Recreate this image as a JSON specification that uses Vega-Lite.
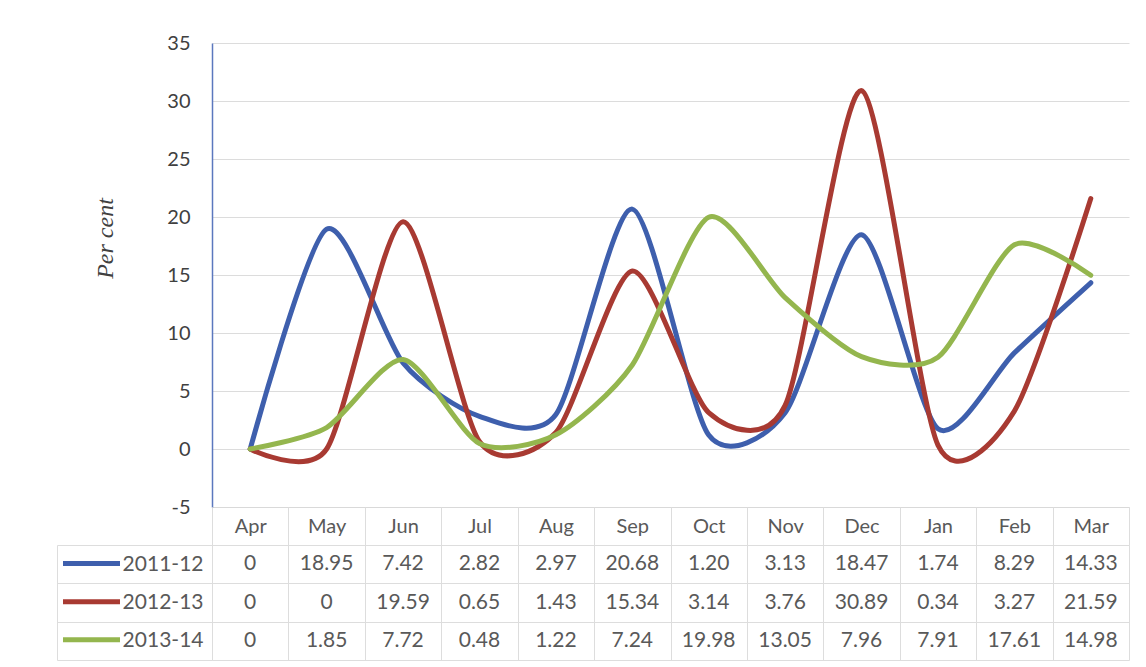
{
  "$schema": "https://vega.github.io/schema/vega-lite/v6.json",
  "padding": {"left": 56, "top": 33, "right": 18, "bottom": 7},
  "background": "white",
  "spacing": 38,
  "bounds": "flush",
  "config": {"view": {"stroke": null}, "font": "Lato"},
  "data": {"values": [
    {"month": "Apr", "series": "2011-12", "value": 0},
    {"month": "May", "series": "2011-12", "value": 18.95},
    {"month": "Jun", "series": "2011-12", "value": 7.42},
    {"month": "Jul", "series": "2011-12", "value": 2.82},
    {"month": "Aug", "series": "2011-12", "value": 2.97},
    {"month": "Sep", "series": "2011-12", "value": 20.68},
    {"month": "Oct", "series": "2011-12", "value": 1.20},
    {"month": "Nov", "series": "2011-12", "value": 3.13},
    {"month": "Dec", "series": "2011-12", "value": 18.47},
    {"month": "Jan", "series": "2011-12", "value": 1.74},
    {"month": "Feb", "series": "2011-12", "value": 8.29},
    {"month": "Mar", "series": "2011-12", "value": 14.33},
    {"month": "Apr", "series": "2012-13", "value": 0},
    {"month": "May", "series": "2012-13", "value": 0},
    {"month": "Jun", "series": "2012-13", "value": 19.59},
    {"month": "Jul", "series": "2012-13", "value": 0.65},
    {"month": "Aug", "series": "2012-13", "value": 1.43},
    {"month": "Sep", "series": "2012-13", "value": 15.34},
    {"month": "Oct", "series": "2012-13", "value": 3.14},
    {"month": "Nov", "series": "2012-13", "value": 3.76},
    {"month": "Dec", "series": "2012-13", "value": 30.89},
    {"month": "Jan", "series": "2012-13", "value": 0.34},
    {"month": "Feb", "series": "2012-13", "value": 3.27},
    {"month": "Mar", "series": "2012-13", "value": 21.59},
    {"month": "Apr", "series": "2013-14", "value": 0},
    {"month": "May", "series": "2013-14", "value": 1.85},
    {"month": "Jun", "series": "2013-14", "value": 7.72},
    {"month": "Jul", "series": "2013-14", "value": 0.48},
    {"month": "Aug", "series": "2013-14", "value": 1.22},
    {"month": "Sep", "series": "2013-14", "value": 7.24},
    {"month": "Oct", "series": "2013-14", "value": 19.98},
    {"month": "Nov", "series": "2013-14", "value": 13.05},
    {"month": "Dec", "series": "2013-14", "value": 7.96},
    {"month": "Jan", "series": "2013-14", "value": 7.91},
    {"month": "Feb", "series": "2013-14", "value": 17.61},
    {"month": "Mar", "series": "2013-14", "value": 14.98}
  ]},
  "vconcat": [
    {
      "width": 917,
      "height": 464,
      "mark": {"type": "line", "interpolate": "cardinal", "tension": 0.25, "strokeWidth": 5, "strokeCap": "round"},
      "encoding": {
        "x": {
          "field": "month", "type": "ordinal",
          "sort": ["Apr","May","Jun","Jul","Aug","Sep","Oct","Nov","Dec","Jan","Feb","Mar"],
          "scale": {"type": "point", "padding": 0.5},
          "axis": {"orient": "bottom", "labels": false, "ticks": false, "grid": false, "title": null, "domainColor": "#D9D9D9", "domainWidth": 1}
        },
        "y": {
          "field": "value", "type": "quantitative",
          "scale": {"domain": [-5, 35], "nice": false, "zero": false},
          "axis": {
            "values": [-5, 0, 5, 10, 15, 20, 25, 30, 35],
            "labelExpr": "replace(datum.label, '\u2212', '-')",
            "title": "Per cent", "titleFont": "Liberation Serif", "titleFontStyle": "italic", "titleFontWeight": "normal",
            "titleFontSize": 24, "titleColor": "#404040", "titleX": -100, "titleY": 195, "titleBaseline": "alphabetic", "titleAngle": -90, "titleAlign": "center",
            "labelFontSize": 20, "labelColor": "#404040", "labelPadding": 22, "labelFont": "Lato",
            "ticks": false, "domainColor": "#5B78BE", "domainWidth": 1.5,
            "grid": true, "gridColor": "#DCDCDC", "gridWidth": 1
          }
        },
        "color": {
          "field": "series", "type": "nominal",
          "scale": {"domain": ["2011-12", "2012-13", "2013-14"], "range": ["#3E5FAD", "#A83A32", "#94B64E"]},
          "legend": {
            "orient": "none", "legendX": -137.5, "legendY": 503.6, "title": null,
            "symbolType": "M-2,0H2", "symbolSize": 812, "symbolStrokeWidth": 5,
            "labelExpr": "''", "labelFontSize": 10, "rowPadding": 11.1, "padding": 0, "symbolOffset": 0, "labelOffset": 0
          }
        }
      }
    },
    {
      "width": 917,
      "height": 115,
      "encoding": {
        "x": {
          "field": "month", "type": "ordinal",
          "sort": ["Apr","May","Jun","Jul","Aug","Sep","Oct","Nov","Dec","Jan","Feb","Mar"],
          "scale": {"type": "band", "paddingInner": 0, "paddingOuter": 0},
          "axis": {
            "orient": "top", "title": null, "labelAngle": 0, "tickBand": "extent", "ticks": true, "tickSize": 38,
            "tickColor": "#DDDDDD", "domainColor": "#DDDDDD", "grid": true, "gridColor": "#DDDDDD",
            "labelPadding": -19, "labelBaseline": "middle", "labelFontSize": 20, "labelColor": "#595959", "labelFont": "Lato"
          }
        }
      },
      "layer": [
        {
          "mark": {"type": "text", "fontSize": 21, "color": "#595959", "font": "Lato"},
          "encoding": {
            "y": {
              "field": "series", "type": "ordinal",
              "sort": ["2011-12", "2012-13", "2013-14"],
              "scale": {"type": "band", "paddingInner": 0, "paddingOuter": 0},
              "axis": {
                "orient": "left", "title": null, "tickBand": "extent", "ticks": true, "tickSize": 155,
                "tickColor": "#DDDDDD", "domainColor": "#DDDDDD", "grid": true, "gridColor": "#DDDDDD",
                "labelPadding": -146, "labelBaseline": "middle", "labelFontSize": 21, "labelColor": "#595959", "labelFont": "Lato"
              }
            },
            "text": {"condition": {"test": "datum.value === 0", "value": "0"}, "field": "value", "type": "quantitative", "format": ".2f"}
          }
        },
        {
          "mark": {"type": "text", "fontSize": 1, "opacity": 0},
          "encoding": {
            "y": {
              "field": "series", "type": "ordinal",
              "sort": ["2011-12", "2012-13", "2013-14"],
              "scale": {"type": "band", "paddingInner": 0, "paddingOuter": 0},
              "axis": {"orient": "left", "offset": 155, "title": null, "labels": false, "ticks": false, "grid": false, "domain": true, "domainColor": "#DDDDDD"}
            },
            "text": {"value": ""}
          }
        }
      ],
      "resolve": {"axis": {"y": "independent"}}
    }
  ]
}
